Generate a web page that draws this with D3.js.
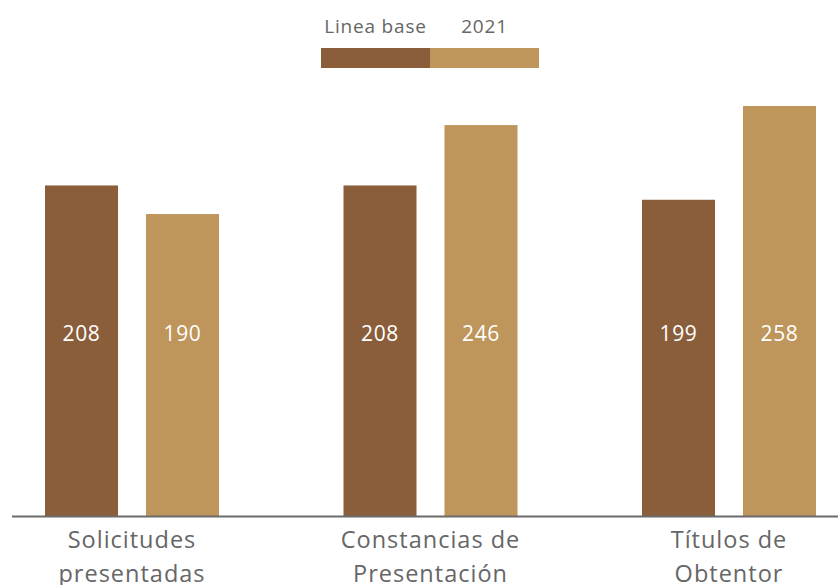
<!DOCTYPE html>
<html>
<head>
<meta charset="utf-8">
<script src="https://cdn.jsdelivr.net/npm/d3@7/dist/d3.min.js"></script>
<style>
  html, body { margin: 0; padding: 0; background: #fff; }
  svg { display: block; font-family: "Open Sans", "Noto Sans", sans-serif; }
</style>
</head>
<body>
<svg id="chart" width="838" height="585"></svg>
<script>
// Categories (each label split into two lines)
const categories = ["Solicitudes presentadas", "Constancias de Presentación", "Títulos de Obtentor"];
const categoryLines = [["Solicitudes", "presentadas"], ["Constancias de", "Presentación"], ["Títulos de", "Obtentor"]];
const seriesNames = ["Linea base", "2021"];
const lineaBase = [208, 208, 199];
const valores2021 = [190, 246, 258];
const seriesColors = ["#8B5E3B", "#BE955B"];

const seriesValues = [lineaBase, valores2021];

const svg = d3.select("#chart");
const W = 838, H = 585;
const baseY = 516;

const x0 = d3.scaleBand().domain(categories).range([-17.25, 878.25]).padding(0);
const x1 = d3.scaleBand().domain(seriesNames).range([-87, 87]).paddingInner(0.277).paddingOuter(0);
const y = d3.scaleLinear().domain([0, 258]).range([baseY, 106]);
const color = d3.scaleOrdinal().domain(seriesNames).range(seriesColors);

const rows = [];
categories.forEach((c, i) => {
  seriesNames.forEach((s, j) => rows.push({ cat: c, series: s, value: seriesValues[j][i] }));
});

const groupCenter = c => x0(c) + x0.bandwidth() / 2;

// Bars
svg.append("g").selectAll("rect").data(rows).join("rect")
  .attr("x", d => groupCenter(d.cat) + x1(d.series))
  .attr("y", d => y(d.value))
  .attr("width", x1.bandwidth())
  .attr("height", d => y(0) - y(d.value))
  .attr("fill", d => color(d.series));

// Value labels inside bars
svg.append("g").selectAll("text").data(rows).join("text")
  .attr("x", d => groupCenter(d.cat) + x1(d.series) + x1.bandwidth() / 2)
  .attr("y", 341)
  .attr("text-anchor", "middle")
  .attr("fill", "#fff")
  .attr("font-size", 21)
  .attr("letter-spacing", 0.6)
  .text(d => d.value);

// Baseline axis
svg.append("line")
  .attr("x1", 12).attr("x2", W)
  .attr("y1", baseY + 0.5).attr("y2", baseY + 0.5)
  .attr("stroke", "#6b6b6b").attr("stroke-width", 2);

// Category labels
const catG = svg.append("g").selectAll("text").data(categories).join("text")
  .attr("text-anchor", "middle")
  .attr("fill", "#666")
  .attr("font-size", 23.5)
  .attr("letter-spacing", 1);
catG.each(function (c, i) {
  const t = d3.select(this);
  categoryLines[i].forEach((ln, k) => {
    t.append("tspan")
      .attr("x", groupCenter(c))
      .attr("y", 548 + k * 34)
      .text(ln);
  });
});

// Legend
const legendX = d3.scaleBand().domain(seriesNames).range([321, 539]).padding(0);
const lg = svg.append("g");
lg.selectAll("rect").data(seriesNames).join("rect")
  .attr("x", d => legendX(d))
  .attr("y", 48)
  .attr("width", legendX.bandwidth())
  .attr("height", 20)
  .attr("fill", d => color(d));
lg.selectAll("text").data(seriesNames).join("text")
  .attr("x", d => legendX(d) + legendX.bandwidth() / 2)
  .attr("y", 33)
  .attr("text-anchor", "middle")
  .attr("fill", "#666")
  .attr("font-size", 19)
  .attr("letter-spacing", 0.8)
  .text(d => d);
</script>
</body>
</html>
